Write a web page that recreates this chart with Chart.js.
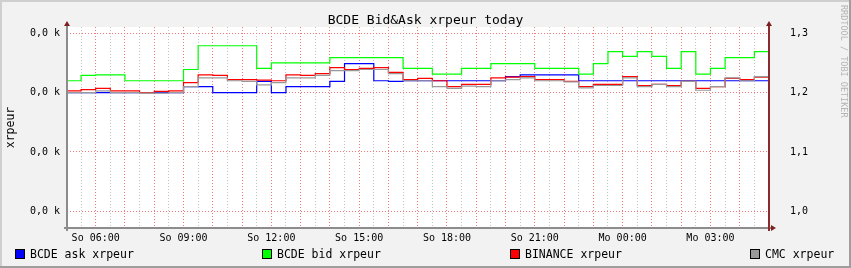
<!DOCTYPE html>
<html>
<head>
<meta charset="utf-8">
<script src="https://cdn.jsdelivr.net/npm/chart.js@4.4.1/dist/chart.umd.min.js"></script>
<style>
    html, body { margin: 0; padding: 0; background: #f2f2f2; }
    #wrap { width: 851px; height: 268px; }
</style>
</head>
<body>
<div id="wrap"><canvas id="chart-rrd" width="851" height="268"></canvas></div>
<script>
// ============================================================
// DATOS - pasos de 30 min desde So 05:00 (horas desde So 00:00)
// ============================================================
const startHour = 5;
const stepHours = 0.5;
const endHour = 29;

const askValues = [
    1.200, 1.200, 1.200, 1.200, 1.200, 1.200, 1.200, 1.200,
    1.210, 1.210, 1.200, 1.200, 1.200, 1.219,
    1.200, 1.210, 1.210, 1.210,
    1.219, 1.249, 1.249, 1.220, 1.219,
    1.220, 1.220, 1.220, 1.220, 1.220, 1.220,
    1.220, 1.227, 1.230,
    1.230, 1.230, 1.230,
    1.220, 1.220, 1.220, 1.220, 1.220, 1.220, 1.220, 1.220, 1.220, 1.220, 1.220, 1.220, 1.220
];
const bidValues = [
    1.220, 1.229, 1.230, 1.230, 1.220, 1.220, 1.220, 1.220,
    1.239, 1.279, 1.279, 1.279, 1.279, 1.241,
    1.250, 1.250, 1.250, 1.250,
    1.259, 1.259, 1.259, 1.259, 1.259,
    1.241, 1.241, 1.231, 1.231, 1.241, 1.241,
    1.249, 1.249, 1.249,
    1.241, 1.241, 1.241,
    1.231, 1.249, 1.269, 1.261, 1.269, 1.261, 1.241, 1.269, 1.231, 1.241, 1.259, 1.259, 1.269
];
const binanceValues = [
    1.203, 1.205, 1.207, 1.203, 1.203, 1.200, 1.202, 1.203,
    1.217, 1.230, 1.229, 1.222, 1.222, 1.221,
    1.220, 1.230, 1.229, 1.232,
    1.242, 1.239, 1.241, 1.242, 1.234,
    1.222, 1.224, 1.220, 1.210, 1.214, 1.214,
    1.225, 1.226, 1.227,
    1.222, 1.222, 1.219,
    1.210, 1.214, 1.214, 1.227, 1.212, 1.214, 1.212, 1.219, 1.207, 1.210, 1.224, 1.222, 1.226
];
const cmcValues = [
    1.200, 1.200, 1.203, 1.200, 1.200, 1.199, 1.199, 1.200,
    1.210, 1.225, 1.225, 1.220, 1.219, 1.213,
    1.217, 1.225, 1.225, 1.229,
    1.237, 1.237, 1.239, 1.239, 1.232,
    1.220, 1.220, 1.210, 1.207, 1.211, 1.210,
    1.220, 1.222, 1.225,
    1.220, 1.220, 1.218,
    1.208, 1.212, 1.212, 1.225, 1.210, 1.214, 1.210, 1.219, 1.204, 1.210, 1.225, 1.220, 1.227
];

const seriesNames = ['BCDE ask xrpeur', 'BCDE bid xrpeur', 'BINANCE xrpeur', 'CMC xrpeur'];
const seriesColors = ['#0000ff', '#00ff00', '#ff0000', '#999999'];

// Ejes
const yTicks = [1.0, 1.1, 1.2, 1.3];
const xLabelHours = [6, 9, 12, 15, 18, 21, 24, 27];
const xLabelTexts = ['So 06:00', 'So 09:00', 'So 12:00', 'So 15:00', 'So 18:00', 'So 21:00', 'Mo 00:00', 'Mo 03:00'];

const chartTitle = 'BCDE Bid&Ask xrpeur today';
const yTitle = 'xrpeur';
const signature = 'RRDTOOL / TOBI OETIKER';

// Rango visible
const xMin = 5.02, xMax = 29.0;
const yMin = 0.9718, yMax = 1.3106;

// ============================================================
// HELPERS
// ============================================================
const toPoints = (values) => {
    const pts = values.map((v, i) => ({ x: startHour + i * stepHours, y: v }));
    pts.push({ x: endHour, y: values[values.length - 1] });
    return pts;
};

const gridHours = [];
for (let h = startHour + stepHours; h < endHour; h += stepHours) gridHours.push(h);

const MONO = 'DejaVu Sans Mono';
const MGRID = 'rgb(245,120,120)';  // rejilla mayor (rosa)
const GRID = 'rgb(195,195,195)';   // rejilla menor (gris)

// ============================================================
// PLUGIN: marco RRD, flechas, título, leyenda
// ============================================================
const rrdFrame = {
    id: 'rrdFrame',
    beforeDraw(chart) {
        const { ctx, chartArea: a, width, height } = chart;
        ctx.save();
        ctx.fillStyle = '#f2f2f2';
        ctx.fillRect(0, 0, width, height);
        ctx.fillStyle = '#cfcfcf';
        ctx.fillRect(0, 0, width, 2);
        ctx.fillRect(0, 0, 2, height);
        ctx.fillStyle = '#9e9e9e';
        ctx.fillRect(0, height - 2, width, 2);
        ctx.fillRect(width - 2, 0, 2, height);
        ctx.fillStyle = '#ffffff';
        ctx.fillRect(a.left, a.top, a.right - a.left, a.bottom - a.top);
        ctx.restore();
    },
    afterDraw(chart) {
        const { ctx, chartArea: a, width } = chart;
        ctx.save();

        // ejes
        ctx.strokeStyle = '#8c8c8c';
        ctx.lineWidth = 2;
        ctx.beginPath();
        ctx.moveTo(a.left, a.top - 4);
        ctx.lineTo(a.left, a.bottom + 3);
        ctx.moveTo(a.left - 3, a.bottom);
        ctx.lineTo(a.right + 3, a.bottom);
        ctx.stroke();

        ctx.strokeStyle = '#8a2a2a';
        ctx.beginPath();
        ctx.moveTo(a.right, a.top - 4);
        ctx.lineTo(a.right, a.bottom + 3);
        ctx.stroke();

        // flechas
        ctx.fillStyle = '#7f1f1f';
        const up = (x) => {
            ctx.beginPath();
            ctx.moveTo(x - 3, a.top - 1);
            ctx.lineTo(x + 3, a.top - 1);
            ctx.lineTo(x, a.top - 6);
            ctx.closePath();
            ctx.fill();
        };
        up(a.left);
        up(a.right);
        ctx.beginPath();
        ctx.moveTo(a.right + 2, a.bottom - 3);
        ctx.lineTo(a.right + 2, a.bottom + 3);
        ctx.lineTo(a.right + 7, a.bottom);
        ctx.closePath();
        ctx.fill();

        // título
        ctx.fillStyle = '#000';
        ctx.font = `13px "${MONO}"`;
        ctx.textAlign = 'center';
        ctx.textBaseline = 'alphabetic';
        ctx.fillText(chartTitle, width / 2, 24);

        // leyenda
        const legendX = [15, 262, 510, 750];
        ctx.font = `11.5px "${MONO}"`;
        ctx.textAlign = 'left';
        chart.data.datasets.forEach((ds, i) => {
            const x = legendX[i];
            ctx.fillStyle = ds.borderColor;
            ctx.fillRect(x, 249, 9, 9);
            ctx.strokeStyle = '#000';
            ctx.lineWidth = 1;
            ctx.strokeRect(x + 0.5, 249.5, 9, 9);
            ctx.fillStyle = '#000';
            ctx.fillText(ds.label, x + 15, 258);
        });

        // firma vertical
        ctx.translate(843, 5);
        ctx.rotate(Math.PI / 2);
        ctx.font = `8.5px "${MONO}"`;
        ctx.fillStyle = '#b4b4b4';
        ctx.textBaseline = 'middle';
        ctx.fillText(signature, 0, 0);

        ctx.restore();
    }
};

// ============================================================
// GRÁFICO
// ============================================================
const valueSets = [askValues, bidValues, binanceValues, cmcValues];
const datasets = valueSets.map((vals, i) => ({
    label: seriesNames[i],
    data: toPoints(vals),
    borderColor: seriesColors[i],
    backgroundColor: seriesColors[i],
    borderWidth: 1.2,
    stepped: true,
    pointRadius: 0,
    fill: false,
    yAxisID: 'y',
    order: valueSets.length - 1 - i   // CMC encima, como en RRD
}));

const tickFont = { family: MONO, size: 10 };

new Chart(document.getElementById('chart-rrd'), {
    type: 'line',
    data: { datasets },
    options: {
        responsive: false,
        animation: false,
        layout: { padding: { top: 27, bottom: 22, left: 0, right: 0 } },
        plugins: {
            legend: { display: false },
            title: { display: false },
            tooltip: { enabled: false }
        },
        scales: {
            x: {
                type: 'linear',
                min: xMin,
                max: xMax,
                afterBuildTicks: (s) => { s.ticks = gridHours.map(v => ({ value: v })); },
                afterFit: (s) => { s.height = 18; },
                grid: {
                    drawTicks: false,
                    color: (c) => (c.tick && c.tick.value % 1 === 0) ? MGRID : GRID
                },
                border: { display: false, dash: [1, 2] },
                ticks: {
                    autoSkip: false,
                    maxRotation: 0,
                    padding: 4,
                    color: '#000',
                    font: tickFont,
                    callback: (v) => {
                        const k = xLabelHours.indexOf(v);
                        return k >= 0 ? xLabelTexts[k] : '';
                    }
                }
            },
            y: {
                position: 'left',
                min: yMin,
                max: yMax,
                afterBuildTicks: (s) => { s.ticks = yTicks.map(v => ({ value: v })); },
                afterFit: (s) => { s.width = 67; },
                grid: { drawTicks: false, color: MGRID },
                border: { display: false, dash: [1, 2] },
                ticks: {
                    padding: 7,
                    color: '#000',
                    font: tickFont,
                    callback: () => '0,0 k'
                },
                title: {
                    display: true,
                    text: yTitle,
                    color: '#000',
                    font: { family: MONO, size: 11.5 },
                    padding: { top: 4, bottom: 0 }
                }
            },
            y2: {
                position: 'right',
                min: yMin,
                max: yMax,
                afterBuildTicks: (s) => { s.ticks = yTicks.map(v => ({ value: v })); },
                afterFit: (s) => { s.width = 82; },
                grid: { display: false, drawTicks: false },
                border: { display: false },
                ticks: {
                    padding: 21,
                    color: '#000',
                    font: tickFont,
                    callback: (v) => v.toFixed(1).replace('.', ',')
                }
            }
        }
    },
    plugins: [rrdFrame]
});
</script>
</body>
</html>
